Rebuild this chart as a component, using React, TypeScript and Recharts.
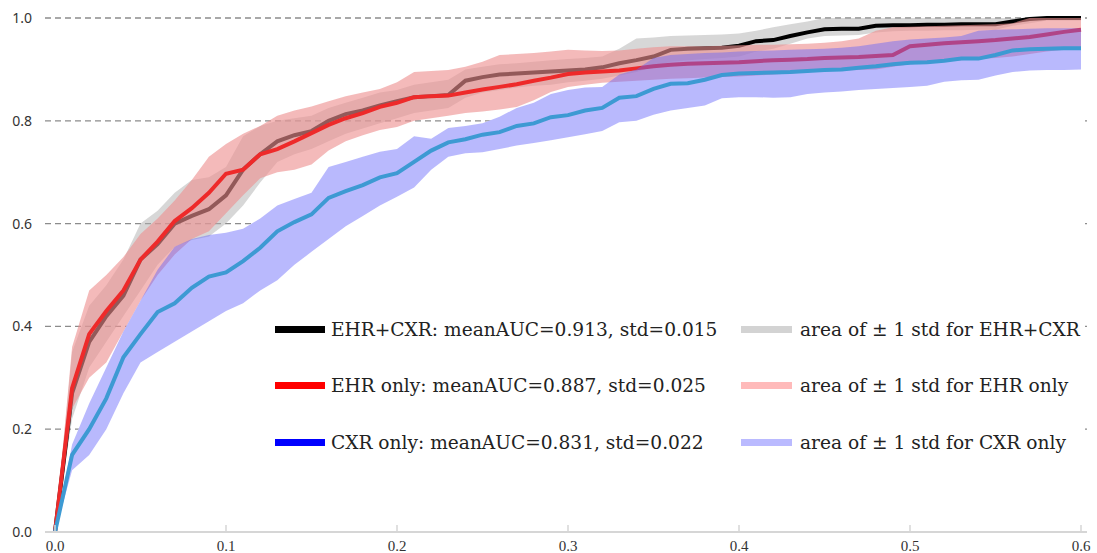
import React from "react";
import {
  ComposedChart,
  Area,
  Line,
  XAxis,
  YAxis,
  CartesianGrid,
  Legend,
} from "recharts";

// false positive rate grid
const fpr = [
  0, 0.01, 0.02, 0.03, 0.04, 0.05, 0.06, 0.07, 0.08, 0.09,
  0.1, 0.11, 0.12, 0.13, 0.14, 0.15, 0.16, 0.17, 0.18, 0.19,
  0.2, 0.21, 0.22, 0.23, 0.24, 0.25, 0.26, 0.27, 0.28, 0.29,
  0.3, 0.31, 0.32, 0.33, 0.34, 0.35, 0.36, 0.37, 0.38, 0.39,
  0.4, 0.41, 0.42, 0.43, 0.44, 0.45, 0.46, 0.47, 0.48, 0.49,
  0.5, 0.51, 0.52, 0.53, 0.54, 0.55, 0.56, 0.57, 0.58, 0.59, 0.6,
];

// EHR+CXR mean TPR and +/- 1 std
const ehrCxr = [
  0, 0.27, 0.37, 0.42, 0.46, 0.53, 0.56, 0.6, 0.615, 0.628,
  0.655, 0.705, 0.735, 0.76, 0.772, 0.78, 0.8, 0.813, 0.82, 0.83,
  0.838, 0.846, 0.848, 0.85, 0.878, 0.885, 0.89, 0.892, 0.894, 0.896,
  0.898, 0.9, 0.904, 0.912, 0.918, 0.925, 0.938, 0.94, 0.941, 0.942,
  0.946, 0.955, 0.957, 0.965, 0.972, 0.978, 0.979, 0.979, 0.985, 0.986,
  0.986, 0.987, 0.987, 0.988, 0.988, 0.988, 0.993, 0.998, 1, 1, 1,
];
const ehrCxrHi = [
  0, 0.35, 0.44, 0.48, 0.53, 0.6, 0.625, 0.66, 0.685, 0.69,
  0.71, 0.77, 0.79, 0.8, 0.805, 0.81, 0.825, 0.835, 0.845, 0.855,
  0.86, 0.87, 0.875, 0.88, 0.9, 0.905, 0.91, 0.912, 0.915, 0.918,
  0.92, 0.922, 0.925, 0.94, 0.96, 0.962, 0.965, 0.966, 0.967, 0.968,
  0.97, 0.975, 0.982, 0.988, 0.993, 1, 1, 1, 1, 1,
  1, 1, 1, 1, 1, 1, 1, 1, 1, 1, 1,
];
const ehrCxrLo = [
  0, 0.22, 0.32, 0.37, 0.42, 0.47, 0.52, 0.555, 0.568, 0.575,
  0.6, 0.635, 0.68, 0.72, 0.735, 0.745, 0.76, 0.775, 0.785, 0.795,
  0.805, 0.815, 0.82, 0.825, 0.845, 0.855, 0.86, 0.865, 0.868, 0.87,
  0.875, 0.878, 0.882, 0.888, 0.895, 0.905, 0.915, 0.918, 0.92, 0.922,
  0.925, 0.935, 0.94, 0.95, 0.96, 0.965, 0.966, 0.967, 0.972, 0.974,
  0.975, 0.975, 0.976, 0.976, 0.977, 0.977, 0.985, 0.99, 0.995, 0.995, 0.995,
];

// EHR only
const ehr = [
  0, 0.28, 0.385, 0.43, 0.47, 0.53, 0.565, 0.605, 0.63, 0.66,
  0.697, 0.705, 0.735, 0.745, 0.76, 0.776, 0.792, 0.805, 0.815, 0.827,
  0.835, 0.846, 0.848, 0.849, 0.855, 0.861, 0.866, 0.871, 0.878, 0.884,
  0.891, 0.894, 0.896, 0.898, 0.902, 0.906, 0.909, 0.911, 0.912, 0.913,
  0.914, 0.916, 0.918, 0.919, 0.92, 0.922, 0.923, 0.924, 0.926, 0.928,
  0.945, 0.948, 0.951, 0.953, 0.955, 0.957, 0.96, 0.963, 0.968, 0.973, 0.977,
];
const ehrHi = [
  0, 0.36, 0.47, 0.5, 0.535, 0.58, 0.61, 0.645, 0.685, 0.73,
  0.755, 0.775, 0.79, 0.81, 0.82, 0.828, 0.838, 0.848, 0.855, 0.862,
  0.875, 0.895, 0.897, 0.899, 0.905, 0.915, 0.928, 0.93, 0.932, 0.935,
  0.938, 0.937, 0.936, 0.937, 0.94, 0.943, 0.945, 0.945, 0.945, 0.946,
  0.947, 0.948, 0.948, 0.949, 0.95, 0.952, 0.955, 0.96, 0.975, 0.982,
  0.983, 0.984, 0.985, 0.986, 0.987, 0.988, 0.99, 1, 1, 1, 1,
];
const ehrLo = [
  0, 0.24, 0.3, 0.33, 0.39, 0.45, 0.5, 0.54, 0.57, 0.585,
  0.62, 0.655, 0.688, 0.7, 0.705, 0.715, 0.742, 0.76, 0.772, 0.782,
  0.788, 0.8, 0.805, 0.81, 0.815, 0.818, 0.822, 0.827, 0.84, 0.856,
  0.866, 0.87, 0.874, 0.876, 0.878, 0.88, 0.882, 0.883, 0.884, 0.885,
  0.886, 0.888, 0.89, 0.892, 0.895, 0.897, 0.898, 0.899, 0.9, 0.905,
  0.91, 0.912, 0.915, 0.918, 0.92, 0.922, 0.925, 0.93, 0.935, 0.938, 0.94,
];

// CXR only
const cxr = [
  0, 0.15, 0.2, 0.26, 0.34, 0.385, 0.428, 0.445, 0.475, 0.497,
  0.505, 0.527, 0.553, 0.585, 0.603, 0.618, 0.65, 0.663, 0.675, 0.69,
  0.698, 0.72, 0.742, 0.758, 0.764, 0.773, 0.778, 0.79, 0.795, 0.807,
  0.811, 0.82, 0.825, 0.845, 0.848, 0.862, 0.872, 0.873, 0.88, 0.889,
  0.892, 0.893, 0.894, 0.895, 0.897, 0.899, 0.9, 0.903, 0.906, 0.91,
  0.913, 0.914, 0.917, 0.921, 0.921, 0.928, 0.937, 0.939, 0.94, 0.941, 0.941,
];
const cxrHi = [
  0, 0.17, 0.25, 0.32, 0.39, 0.45, 0.51, 0.555, 0.57, 0.578,
  0.582, 0.59, 0.61, 0.635, 0.648, 0.66, 0.71, 0.72, 0.73, 0.74,
  0.745, 0.77, 0.765, 0.786, 0.79, 0.795, 0.808, 0.825, 0.835, 0.852,
  0.86, 0.865, 0.866, 0.89, 0.9, 0.922, 0.928, 0.93, 0.932, 0.933,
  0.935, 0.936, 0.937, 0.938, 0.939, 0.94, 0.942, 0.945, 0.95, 0.955,
  0.958, 0.96, 0.962, 0.965, 0.975, 0.977, 0.978, 0.979, 0.98, 0.98, 0.98,
];
const cxrLo = [
  0, 0.12, 0.15, 0.2, 0.27, 0.33, 0.35, 0.37, 0.39, 0.41,
  0.43, 0.445, 0.47, 0.49, 0.52, 0.545, 0.57, 0.595, 0.615, 0.635,
  0.652, 0.67, 0.705, 0.73, 0.737, 0.739, 0.745, 0.752, 0.757, 0.762,
  0.768, 0.774, 0.78, 0.797, 0.8, 0.812, 0.82, 0.825, 0.83, 0.844,
  0.846, 0.846, 0.845, 0.846, 0.852, 0.855, 0.857, 0.86, 0.862, 0.864,
  0.866, 0.868, 0.876, 0.879, 0.88, 0.888, 0.895, 0.898, 0.899, 0.899, 0.9,
];

const xTicks = [0, 0.1, 0.2, 0.3, 0.4, 0.5, 0.6];
const yTicks = [0, 0.2, 0.4, 0.6, 0.8, 1.0];

const lineLegend = [
  { color: "#000000", label: "EHR+CXR: meanAUC=0.913, std=0.015" },
  { color: "#ff0000", label: "EHR only: meanAUC=0.887, std=0.025" },
  { color: "#0000ff", label: "CXR only: meanAUC=0.831, std=0.022" },
];
const bandLegend = [
  { color: "#d3d3d3", label: "area of \u00b1 1 std for EHR+CXR" },
  { color: "#ffbaba", label: "area of \u00b1 1 std for EHR only" },
  { color: "#babaff", label: "area of \u00b1 1 std for CXR only" },
];

const data = fpr.map((x, i) => ({
  fpr: x,
  ehrCxr: ehrCxr[i],
  ehr: ehr[i],
  cxr: cxr[i],
  mask: cxrHi[i],
  ehrCxrBand: [ehrCxrLo[i], ehrCxrHi[i]],
  ehrBand: [ehrLo[i], ehrHi[i]],
  cxrBand: [cxrLo[i], cxrHi[i]],
}));

const XTick = ({ x, y, payload }: any) => (
  <g>
    <line x1={x} x2={x} y1={y - 7} y2={y} stroke="#d6d6d6" strokeWidth={1.5} />
    <text
      x={x}
      y={y + 19}
      textAnchor="middle"
      fontFamily="Liberation Serif"
      fontSize={15}
      fill="#333"
    >
      {Number(payload.value).toFixed(1)}
    </text>
  </g>
);

const rowStyle: React.CSSProperties = {
  display: "flex",
  alignItems: "center",
  height: 56.5,
};

const LegendBox = () => (
  <div
    style={{
      display: "flex",
      fontFamily: "DejaVu Serif",
      fontSize: 18.6,
      color: "#222",
      whiteSpace: "nowrap",
    }}
  >
    <div style={{ width: 466 }}>
      {lineLegend.map((d) => (
        <div key={d.label} style={rowStyle}>
          <span style={{ width: 50, height: 7, background: d.color, marginRight: 6 }} />
          {d.label}
        </div>
      ))}
    </div>
    <div>
      {bandLegend.map((d) => (
        <div key={d.label} style={rowStyle}>
          <span style={{ width: 51, height: 7, background: d.color, marginRight: 8 }} />
          {d.label}
        </div>
      ))}
    </div>
  </div>
);

export default function App() {
  return (
    <div style={{ position: "relative", width: 1097, height: 553, background: "#fff" }}>
      <style>{"body{margin:0}"}</style>
      <ComposedChart
        width={1097}
        height={553}
        data={data}
        margin={{ top: 18, right: 10, left: 10, bottom: 0 }}
      >
        <CartesianGrid vertical={false} stroke="#8c8c8c" strokeWidth={1.3} strokeDasharray="6 4" />
        {/* white fill under the CXR upper edge hides the grid, as in the original */}
        <Area
          type="linear"
          dataKey="mask"
          stroke="none"
          fill="#ffffff"
          fillOpacity={1}
          isAnimationActive={false}
        />
        <Area
          type="linear"
          dataKey="ehrCxrBand"
          stroke="none"
          fill="#b0b0b0"
          fillOpacity={0.5}
          isAnimationActive={false}
        />
        {/* mean curves that sit below later bands are drawn as unfilled Areas to keep the layer order */}
        <Area
          type="linear"
          dataKey="ehrCxr"
          stroke="#000000"
          strokeWidth={4}
          fill="none"
          isAnimationActive={false}
        />
        <Area
          type="linear"
          dataKey="ehrBand"
          stroke="none"
          fill="#ee8f8f"
          fillOpacity={0.62}
          isAnimationActive={false}
        />
        <Area
          type="linear"
          dataKey="ehr"
          stroke="#ee2a2a"
          strokeWidth={4}
          fill="none"
          isAnimationActive={false}
        />
        <Area
          type="linear"
          dataKey="cxrBand"
          stroke="none"
          fill="#6464fa"
          fillOpacity={0.45}
          isAnimationActive={false}
        />
        <Line
          type="linear"
          dataKey="cxr"
          stroke="#3d9ad3"
          strokeWidth={4}
          dot={false}
          isAnimationActive={false}
        />
        <XAxis
          type="number"
          dataKey="fpr"
          domain={[0, 0.6]}
          ticks={xTicks}
          padding={{ left: 10, right: 6 }}
          height={21}
          stroke="#d6d6d6"
          strokeWidth={2}
          tickLine={false}
          tickSize={0}
          tickMargin={0}
          tick={<XTick />}
          interval={0}
        />
        <YAxis
          type="number"
          domain={[0, 1]}
          ticks={yTicks}
          width={35}
          axisLine={false}
          tickLine={false}
          tickSize={0}
          tickMargin={13}
          tickFormatter={(v: number) => v.toFixed(1)}
          tick={{ fontFamily: "Noto Sans", fontSize: 14, fill: "#333" }}
        />
        <Legend
          layout="horizontal"
          verticalAlign="middle"
          align="center"
          content={<LegendBox />}
          wrapperStyle={{ left: 275, top: 301, width: 820 }}
        />
      </ComposedChart>
    </div>
  );
}
